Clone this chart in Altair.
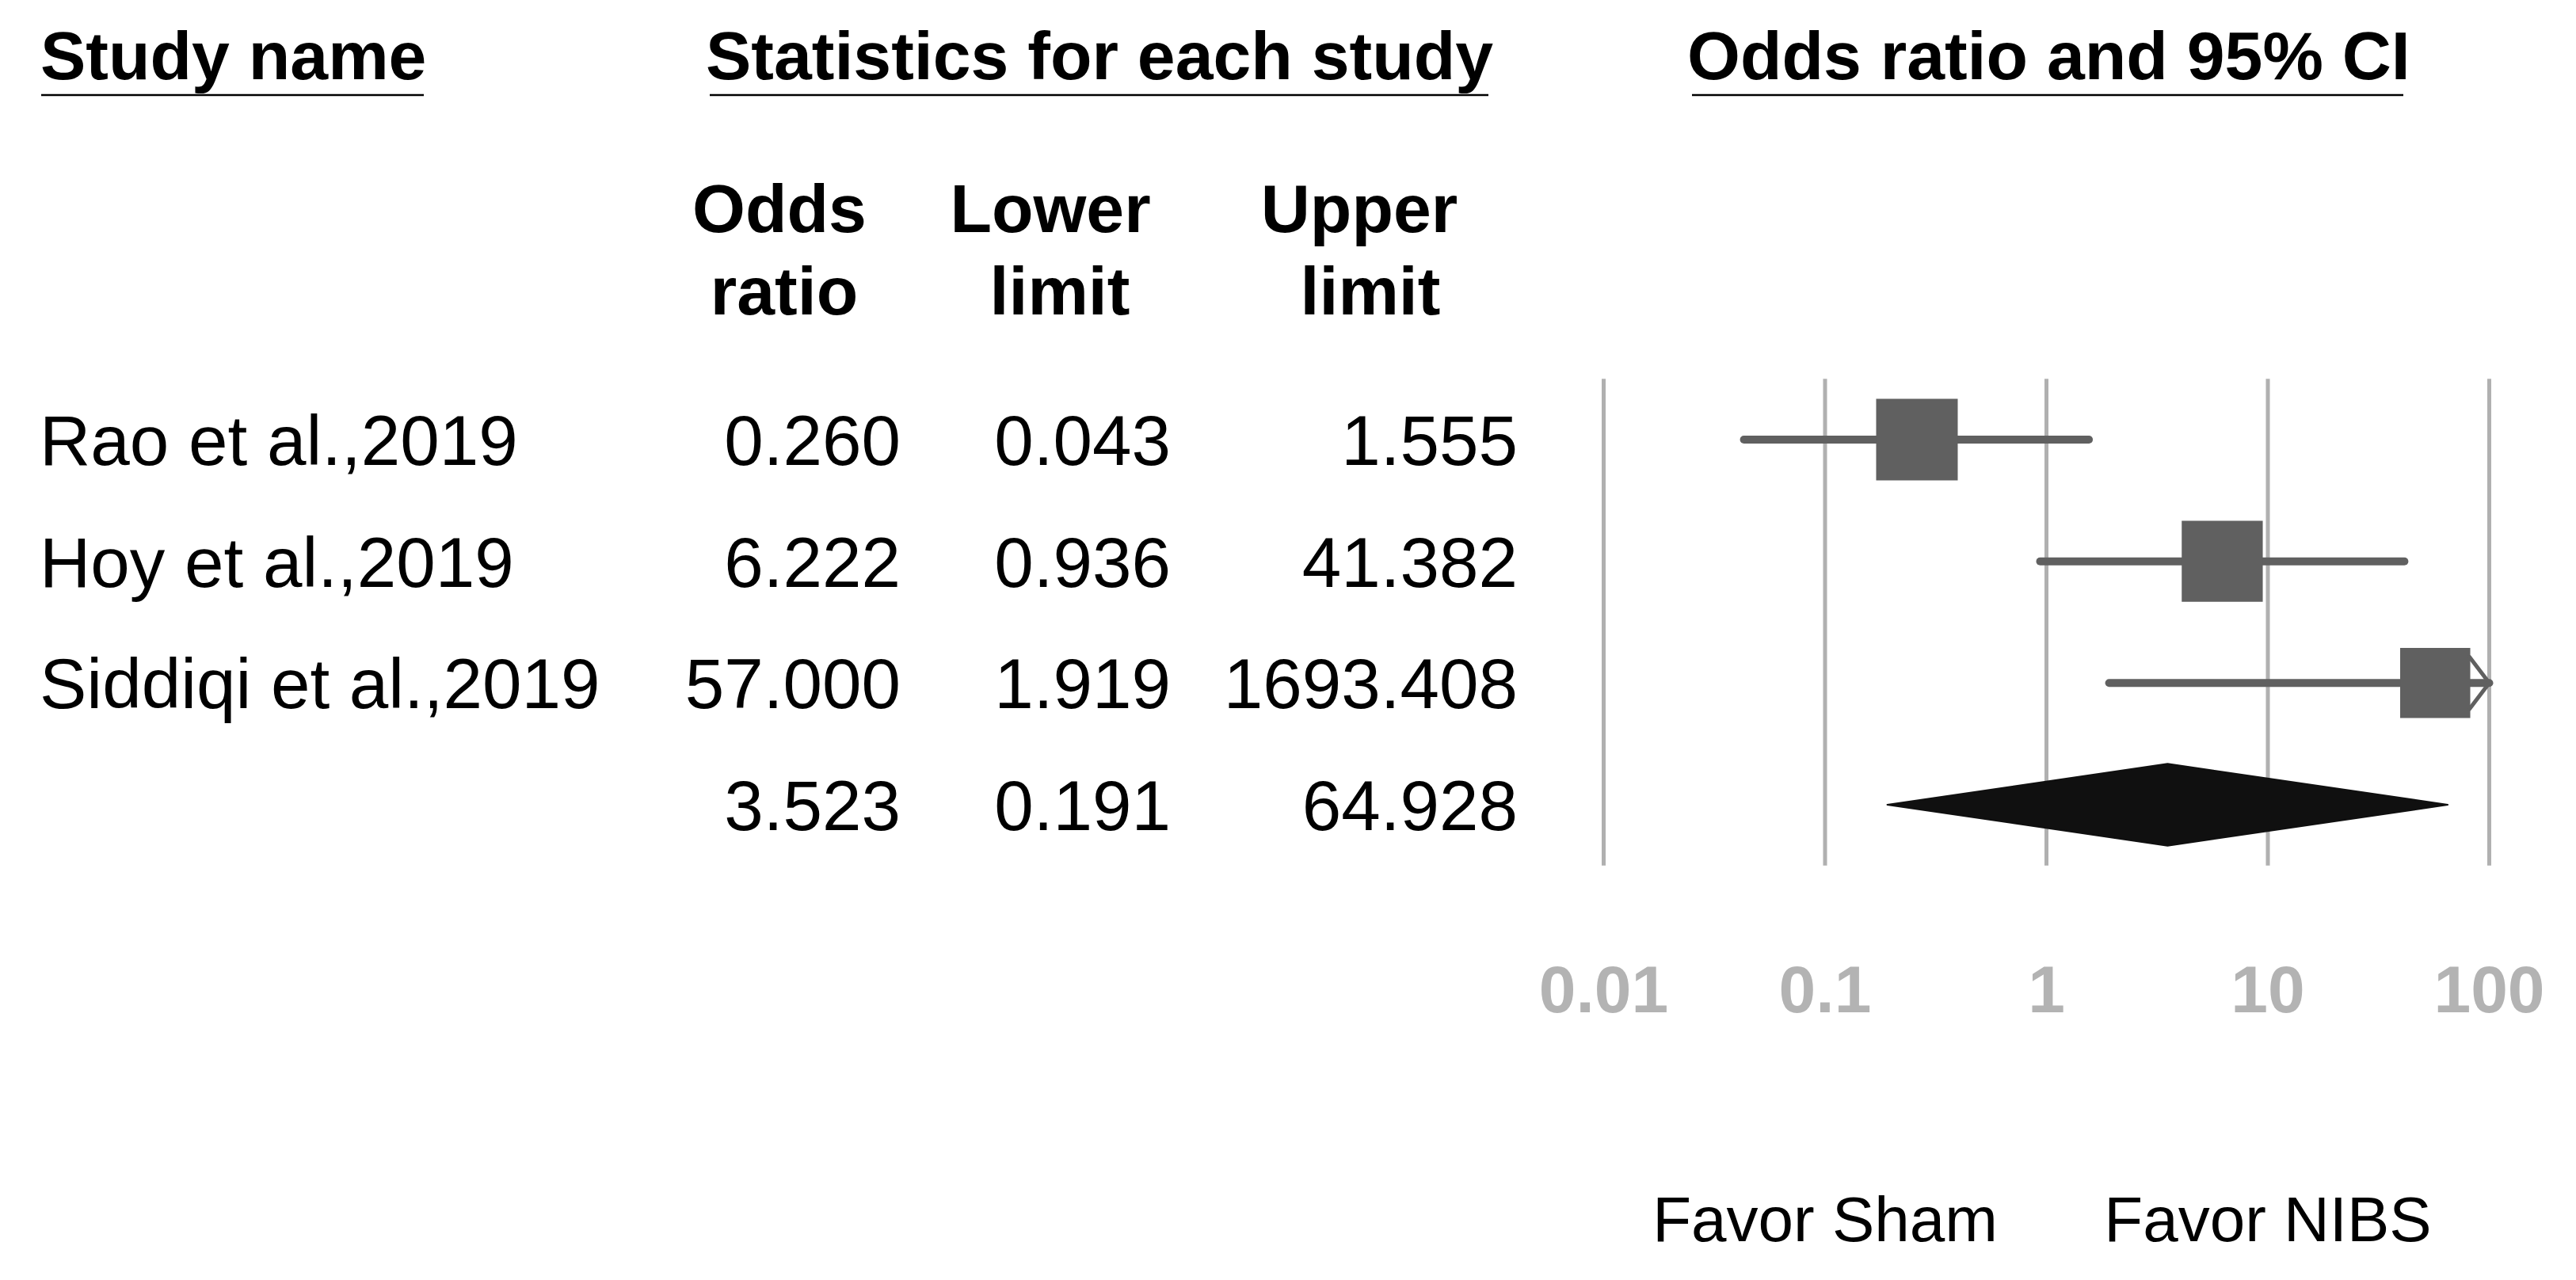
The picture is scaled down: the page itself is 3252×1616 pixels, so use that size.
import altair as alt
import pandas as pd

# ---------------- data ----------------
studies = ["Rao et al.,2019", "Hoy et al.,2019", "Siddiqi et al.,2019"]
odds_ratio = [0.260, 6.222, 57.000]
lower_limit = [0.043, 0.936, 1.919]
upper_limit = [1.555, 41.382, 1693.408]
rel_weight = [36.7, 36.2, 27.1]          # relative weights (box area)

summary_or = 3.523
summary_lower = 0.191
summary_upper = 64.928

tick_values = [0.01, 0.1, 1, 10, 100]
tick_labels = ["0.01", "0.1", "1", "10", "100"]
favor_labels = ["Favor Sham", "Favor NIBS"]
favor_at = [0.1, 10]

# ---------------- styling / layout ----------------
FONT = "Liberation Sans"
BOX_GREY = "#606060"
GRID_GREY = "#b0b0b0"
TICK_GREY = "#b3b3b3"
DIAMOND = "#101010"
ROW_FS = 89
HEAD_FS = 86
DIAMOND_HALF = 0.337

xscale = alt.Scale(type="log", domain=[0.01, 100], range=[2016.5, 3134.5], clamp=True)
yscale = alt.Scale(domain=[0, 3], range=[547, 1008])

n = len(studies)
table = pd.DataFrame({
    "row": list(range(n)) + [n],
    "name": studies + [""],
    "or": odds_ratio + [summary_or],
    "lo": lower_limit + [summary_lower],
    "hi": upper_limit + [summary_upper],
})
study_df = pd.DataFrame({
    "row": list(range(n)),
    "or": odds_ratio,
    "lo": lower_limit,
    "hi": upper_limit,
    "w": rel_weight,
})
grid_df = pd.DataFrame({"tick": tick_values, "label": tick_labels,
                        "y0": [-0.5] * len(tick_values), "y1": [n + 0.5] * len(tick_values)})
favor_df = pd.DataFrame({"x": favor_at, "label": favor_labels})
diamond_df = pd.DataFrame({
    "x": [summary_lower, summary_or, summary_upper],
    "top": [n, n - DIAMOND_HALF, n],
    "bottom": [n, n + DIAMOND_HALF, n],
})

Y = alt.Y("row:Q", scale=yscale, axis=None)


def label(text, x, y, size, weight="normal", align="left", color="black"):
    return alt.Chart(pd.DataFrame({"t": [text]})).mark_text(
        font=FONT, fontSize=size, fontWeight=weight, align=align,
        baseline="alphabetic", color=color
    ).encode(x=alt.value(x), y=alt.value(y), text="t:N")


def underline(x1, x2, y):
    return alt.Chart(pd.DataFrame({"a": [0]})).mark_rule(
        color="black", strokeWidth=2.5
    ).encode(x=alt.value(x1), x2=alt.value(x2), y=alt.value(y))


headers = [
    label("Study name", 43, 92, HEAD_FS, "bold"),
    underline(44, 527, 112),
    label("Statistics for each study", 883, 92, HEAD_FS, "bold"),
    underline(888, 1871, 112),
    label("Odds ratio and 95% CI", 2122, 92, HEAD_FS, "bold"),
    underline(2128, 3026, 112),
    label("Odds", 976, 285, HEAD_FS, "bold", "center"),
    label("ratio", 982, 389, HEAD_FS, "bold", "center"),
    label("Lower", 1318, 285, HEAD_FS, "bold", "center"),
    label("limit", 1330, 389, HEAD_FS, "bold", "center"),
    label("Upper", 1708, 285, HEAD_FS, "bold", "center"),
    label("limit", 1722, 389, HEAD_FS, "bold", "center"),
]


def col_text(field, x, align, fmt=None):
    txt = alt.Text(field, format=fmt) if fmt else alt.Text(field)
    return alt.Chart(table).mark_text(
        font=FONT, fontSize=ROW_FS, align=align, baseline="alphabetic",
        dy=0.358 * ROW_FS, color="black"
    ).encode(x=alt.value(x), y=Y, text=txt)


cols = [
    col_text("name:N", 42, "left"),
    col_text("or:Q", 1129, "right", ".3f"),
    col_text("lo:Q", 1470, "right", ".3f"),
    col_text("hi:Q", 1908, "right", ".3f"),
]

grid = alt.Chart(grid_df).mark_rule(color=GRID_GREY, strokeWidth=5).encode(
    x=alt.X("tick:Q", scale=xscale, axis=None),
    y=alt.Y("y0:Q", scale=yscale, axis=None),
    y2="y1:Q",
)

tick_text = alt.Chart(grid_df).mark_text(
    font=FONT, fontSize=84, fontWeight="bold", color=TICK_GREY,
    align="center", baseline="alphabetic"
).encode(x=alt.X("tick:Q", scale=xscale, axis=None), y=alt.value(1270), text="label:N")

favor_text = alt.Chart(favor_df).mark_text(
    font=FONT, fontSize=80, color="black", align="center", baseline="alphabetic"
).encode(x=alt.X("x:Q", scale=xscale, axis=None), y=alt.value(1559), text="label:N")

ci = alt.Chart(study_df).mark_rule(
    color=BOX_GREY, strokeWidth=10, strokeCap="round"
).encode(x=alt.X("lo:Q", scale=xscale, axis=None), x2="hi:Q", y=Y)

boxes = alt.Chart(study_df).mark_square(
    color=BOX_GREY, filled=True, opacity=1
).encode(
    x=alt.X("or:Q", scale=xscale, axis=None), y=Y,
    size=alt.Size("w:Q", scale=alt.Scale(domain=[0, max(rel_weight)], range=[0, 10609]), legend=None),
)

arrows = alt.Chart(study_df).transform_filter("datum.hi > 100").mark_point(
    shape="M-0.76,-1L0,0L-0.76,1", filled=False, color=BOX_GREY,
    strokeWidth=5, size=4356, opacity=1, strokeCap="round"
).encode(x=alt.X("hi:Q", scale=xscale, axis=None), y=Y)

diamond = alt.Chart(diamond_df).mark_area(
    color=DIAMOND, opacity=1, stroke=DIAMOND, strokeWidth=2, strokeJoin="round"
).encode(
    x=alt.X("x:Q", scale=xscale, axis=None),
    y=alt.Y("top:Q", scale=yscale, axis=None),
    y2="bottom:Q",
)

chart = alt.layer(
    grid, ci, boxes, arrows, diamond, tick_text, favor_text, *cols, *headers
).properties(
    width=3236, height=1600,
    autosize=alt.AutoSizeParams(type="none"),
    padding=0,
).configure_view(stroke=None)

chart.save("out.html", embed_options={"renderer": "svg", "actions": False})
